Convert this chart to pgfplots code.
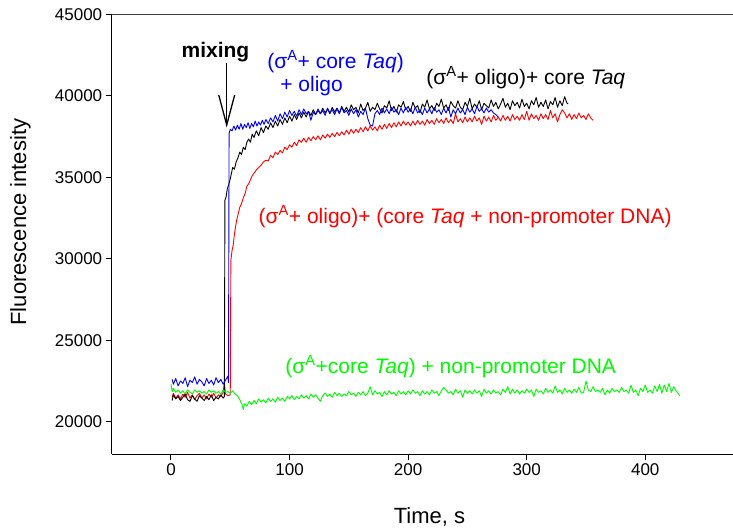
\documentclass[border=0pt]{standalone}
\usepackage{fontspec}
\setmainfont{Liberation Sans}
\usepackage{pgfplots}
\usepackage{pgfplotstable}
\pgfplotsset{compat=1.18}
\definecolor{cblue}{RGB}{0,0,255}
\definecolor{cred}{RGB}{255,0,0}
\definecolor{cgreen}{RGB}{0,250,0}
\newcommand\sig{σ\textsuperscript{A}}
\newcommand\annfont{\fontsize{21bp}{25bp}\selectfont}

\pgfplotstableread{
t v
1 21300
2 21650
4 21400
6 21550
8 21300
10 21500
12 21700
14 21350
16 21250
18 21600
20 21400
22 21250
24 21600
26 21450
28 21300
30 21550
32 21350
34 21650
36 21300
38 21500
40 21400
42 21650
44 21450
45 21550
45.5 33600
46.5 33800
47.5 34300
48.5 34500
50 34900
51 35250
52 35600
53.5 35500
55 35950
56.5 36200
58 36550
59.5 36400
61 36850
62.5 36700
64 37150
65.5 37350
67 37150
68.5 37650
70 37450
72 37850
74 37550
76 38050
78 37750
80 38150
82 37950
84 38350
86 38050
88 38450
90 38150
92 38550
94 38250
96 38650
98 38350
100 38750
102 38450
104 38850
106 38550
108 38950
110 38650
112 39000
114 38700
116 39050
118 38800
120 39150
122 38850
124 39100
126 38900
128 39250
130 38950
132 39200
134 38900
136 39300
138 39000
140 39250
142 38950
144 39350
146 39050
148 39300
150 39000
152 39450
154 39150
156 39300
158 38950
160 39500
162 39100
164 39250
166 39600
168 39050
170 39300
172 39150
174 39550
176 39200
178 38950
180 39400
182 39250
184 39700
186 39100
188 39350
190 39000
192 39450
194 39300
196 39650
198 39150
200 39350
202 39050
204 39600
206 39250
208 39400
210 38950
212 39500
214 39300
216 39750
218 39200
220 39400
222 39100
224 39550
226 39350
228 39800
230 39250
232 39450
234 39100
236 39650
238 39400
240 39250
242 39700
244 39300
246 39150
248 39600
250 39350
252 39850
254 39200
256 39500
258 39300
260 39700
262 39150
264 39550
266 39400
268 39250
270 39750
272 39350
274 39600
276 39200
278 39500
280 39850
282 39300
284 39550
286 39150
288 39700
290 39400
292 39600
294 39250
296 39800
298 39350
300 39550
302 39200
304 39700
306 39450
308 39900
310 39300
312 39600
314 39350
316 39750
318 39200
320 39650
322 39450
324 39900
326 39300
328 39700
330 39400
332 39950
334 39550
335 39500
}\blackdata

\pgfplotstableread{
t v
1 22600
2 22300
4 22650
6 22200
8 22500
10 22350
12 22700
14 22150
16 22550
18 22400
20 22750
22 22300
24 22600
26 22450
28 22200
30 22650
32 22350
34 22550
36 22250
38 22700
40 22400
42 22600
44 22300
46 22550
48 22800
48.5 22400
49 37700
50 37950
51.5 37850
53 38150
54.5 37900
56 38200
57.5 37950
59 38300
60.5 37950
62 38250
63.5 38050
65 38350
66.5 38000
68 38300
69.5 38100
71 38450
72.5 38150
74 38400
75.5 38200
77 38500
78.5 38250
80 38550
82 38300
84 38650
86 38400
88 38800
90 38450
92 38900
94 38600
96 39000
98 38700
100 39100
102 38800
104 39050
106 38750
108 39150
110 38850
112 39200
114 38900
116 39050
118 38500
120 39000
122 38850
124 39200
126 38900
128 39100
130 38800
132 39250
134 38950
136 39150
138 38850
140 39200
142 38900
144 39300
146 38950
148 39100
150 38800
152 39200
154 38900
156 39150
158 38700
160 39050
162 38850
164 39250
166 38600
168 38200
170 38150
172 38900
174 39100
176 38850
178 39250
180 38950
182 39200
184 38900
186 39300
188 39000
190 39150
192 38850
194 39250
196 38950
198 39300
200 39000
202 39200
204 38900
206 39300
208 38950
210 39150
212 38850
214 39250
216 38950
218 39200
220 38900
222 39300
224 39000
226 39150
228 38850
230 39250
232 38950
234 39300
236 38700
238 39150
240 38900
242 39250
244 38950
246 39150
248 38850
250 39300
252 39000
254 39200
256 38900
258 39350
260 39050
262 39200
264 38950
266 39250
268 39000
270 39150
272 38950
274 38850
276 38700
}\bluedata

\pgfplotstableread{
t v
1 21500
2 21750
4 21450
6 21650
8 21400
10 21700
12 21500
14 21800
16 21450
18 21650
20 21350
22 21600
24 21750
26 21450
28 21650
30 21400
32 21700
34 21500
36 21750
38 21450
40 21650
42 21550
44 21800
45 22400
46 21700
48 21600
50 21650
50.5 29900
51.5 30500
52.5 30850
53.5 31500
54.5 32000
55.5 32400
56.5 32700
58 33150
59.5 33400
61 33750
62.5 34000
64 34450
65.5 34600
67 34850
68.5 35100
70 35250
72 35450
74 35600
76 35750
78 35950
80 36050
82 36000
84 36350
86 36200
88 36550
90 36400
92 36650
94 36500
96 36850
98 36700
100 37000
102 36850
104 37150
106 36950
108 37300
110 37150
112 37400
114 37150
116 37450
118 37250
120 37500
122 37300
124 37550
126 37300
128 37600
130 37400
132 37650
134 37450
136 37700
138 37500
140 37750
142 37550
144 37800
146 37600
148 37900
150 37650
152 37950
154 37700
156 37950
158 37750
160 38050
162 37800
164 38100
166 37850
168 38150
170 37900
172 38100
174 37850
176 38200
178 37950
180 38250
182 38000
184 38300
186 38050
188 38350
190 38100
192 38400
194 38150
196 38450
198 38200
200 38400
202 38150
204 38450
206 38200
208 38500
210 38250
212 38450
214 38200
216 38550
218 38300
220 38500
222 38250
224 38600
226 38350
228 38550
230 38300
232 38650
234 38350
236 38550
238 38300
240 38900
242 38400
244 38600
246 38350
248 38700
250 38400
252 38650
254 38400
256 38750
258 38450
260 38650
262 38250
264 38750
266 38450
268 38700
270 38400
272 38800
274 38500
276 38700
278 38450
280 38800
282 38500
284 38750
286 38450
288 38850
290 38550
292 38750
294 38500
296 38850
298 38550
300 39050
302 38500
304 38900
306 38600
308 38800
310 38500
312 38900
314 38600
316 38850
318 38550
320 39100
322 38650
324 38900
326 38400
328 38850
330 39150
332 38950
334 38650
336 38900
338 38550
340 38850
342 38600
344 38950
346 38650
348 38800
350 38550
352 38900
354 38650
356 38500
}\reddata

\pgfplotstableread{
t v
0 22300
1 21850
2 22050
4 21800
6 21950
8 21750
10 21900
12 21700
14 21950
16 21800
18 21700
20 21950
22 21800
24 21900
26 21750
28 21850
30 21700
32 21950
34 21800
36 21900
38 21750
40 21850
42 21700
44 21950
46 21800
48 21850
50 21750
52 21900
54 21700
56 21600
58 21350
60 21050
61 20750
62 21100
64 20950
66 21250
68 21050
70 21300
72 21100
74 21400
76 21200
78 21350
80 21150
82 21450
84 21250
86 21400
88 21200
90 21500
92 21300
94 21450
96 21250
98 21550
100 21400
102 21600
104 21350
106 21550
108 21400
110 21650
112 21450
114 21600
116 21400
118 21700
120 21500
122 21650
124 21450
126 21250
128 21600
130 21750
132 21550
134 21700
136 21500
138 21800
140 21600
142 21750
144 21550
146 21700
148 21600
150 21850
152 21650
154 21750
156 21550
158 21800
160 21650
162 21850
164 21600
166 21750
168 22150
170 21650
172 21900
174 21700
176 21800
178 21550
180 21850
182 21650
184 21900
186 21700
188 21800
190 21600
192 21900
194 21700
196 21850
198 21650
200 21900
202 21700
204 21950
206 21750
208 21850
210 21600
212 21900
214 21700
216 21850
218 21650
220 21950
222 21750
224 21850
226 21600
228 21900
230 22100
232 21950
234 21750
236 21850
238 21650
240 22000
242 21750
244 21900
246 21500
248 21950
250 21750
252 21900
254 21700
256 21950
258 21750
260 21900
262 21550
264 22000
266 21750
268 21900
270 21700
272 21950
274 21750
276 21850
278 21650
280 22000
282 21800
284 22150
286 21700
288 22000
290 21750
292 21950
294 21700
296 21900
298 21750
300 22000
302 21800
304 21950
306 21550
308 22000
310 21800
312 21900
314 21700
316 22050
318 21800
320 21950
322 21750
324 22200
326 21800
328 21950
330 21700
332 22050
334 21800
336 21950
338 21750
340 22000
342 21800
344 22100
346 21750
348 21800
350 22500
352 21950
354 21850
356 22150
358 21850
360 21950
362 21800
364 22050
366 21650
368 21950
370 21750
372 22050
374 21850
376 21950
378 21800
380 22100
382 21850
384 21950
386 21750
388 22250
390 21800
392 21950
394 21600
396 22050
398 21850
400 22250
402 21800
404 21950
406 21750
408 22200
410 21850
412 22300
414 21750
416 22250
418 21850
420 22350
422 21800
424 22150
426 21900
428 21700
429 21600
}\greendata

\begin{document}
\begin{tikzpicture}
\path[use as bounding box] (-111.7bp,-74.7bp) rectangle (621.3bp,454.3bp);
\begin{axis}[
  at={(0,0)}, anchor=south west,
  scale only axis, width=621.3bp, height=439.9bp,
  xmin=-50, xmax=474, ymin=18000, ymax=45000,
  clip=false,
  axis x line*=bottom, axis y line*=left,
  axis line style={-, line width=1.1bp, black},
  xtick={0,100,200,300,400},
  ytick={20000,25000,30000,35000,40000,45000},
  tick align=outside, major tick length=6bp,
  tick style={line width=1bp, black},
  scaled y ticks=false,
  /pgf/number format/assume math mode=true,
  yticklabel style={/pgf/number format/1000 sep={}},
  tick label style={font=\fontsize{17bp}{20bp}\selectfont},
  every axis x label/.style={at={(axis cs:218,13783)}, anchor=base},
  every axis y label/.style={at={(axis cs:-127,32250)}, rotate=90, anchor=center},
  label style={font=\fontsize{22bp}{26bp}\selectfont},
  xlabel={Time, s},
  ylabel={Fluorescence intesity},
  every axis plot/.append style={line width=0.9bp, line join=round},
]
\draw[line width=1.1bp, black!75] (rel axis cs:0,1) -- (rel axis cs:1,1);
\addplot[cred, no marks] table[x=t, y=v] {\reddata};
\addplot[black, no marks] table[x=t, y=v] {\blackdata};
\addplot[cblue, no marks] table[x=t, y=v] {\bluedata};
\addplot[cgreen, no marks] table[x=t, y=v] {\greendata};

\node[anchor=base west, inner sep=0, font=\bfseries\annfont] at (axis cs:8.8,42384) {mixing};
\draw[line width=1.3bp] (axis cs:47,42013) -- (axis cs:47,38210);
\draw[line width=1.3bp] (axis cs:40.3,40050) -- (axis cs:47,38210) -- (axis cs:53.7,40050);
\node[anchor=base west, inner sep=0, font=\annfont, text=cblue] at (axis cs:81.2,41690) {(\sig+ core \textit{Taq})};
\node[anchor=base west, inner sep=0, font=\annfont, text=cblue] at (axis cs:92.1,40254) {+ oligo};
\node[anchor=base west, inner sep=0, font=\annfont, text=black] at (axis cs:215.2,40708) {(\sig+ oligo)+ core \textit{Taq}};
\node[anchor=base west, inner sep=0, font=\annfont, text=cred] at (axis cs:73.8,32177) {(\sig+ oligo)+ (core \textit{Taq} + non-promoter DNA)};
\node[anchor=base west, inner sep=0, font=\annfont, text=cgreen] at (axis cs:96.3,22970) {(\sig+core \textit{Taq}) + non-promoter DNA};
\end{axis}
\end{tikzpicture}
\end{document}
